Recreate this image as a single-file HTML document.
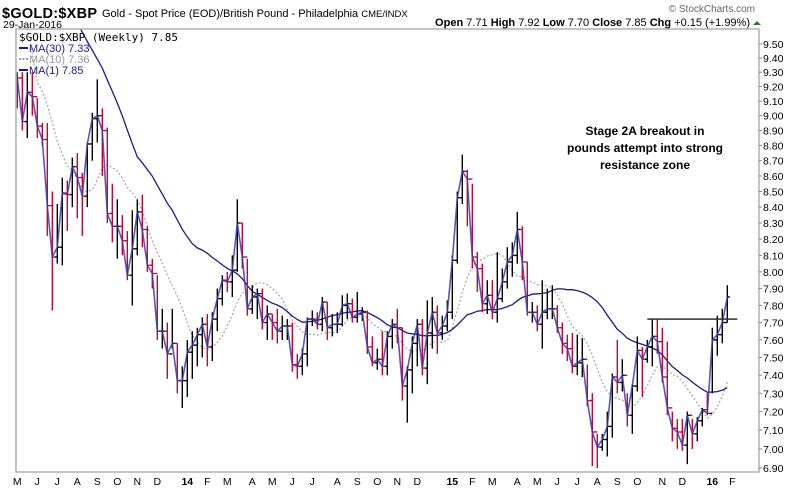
<!DOCTYPE html>
<html><head><meta charset="utf-8">
<style>
body{margin:0;background:#fff;}
svg{display:block;font-family:"Liberation Sans",sans-serif;}
</style></head>
<body>
<svg id="chart" width="800" height="490" viewBox="0 0 800 490" xmlns="http://www.w3.org/2000/svg">
<rect x="0" y="0" width="800" height="490" fill="#fff"/>
<g>
<text x="2" y="18" font-size="14.5" font-weight="bold" fill="#000" textLength="95">$GOLD:$XBP</text>
<text x="102" y="17" font-size="11" fill="#000">Gold - Spot Price (EOD)/British Pound - Philadelphia <tspan font-size="9.5">CME/INDX</tspan></text>
<text x="3" y="28" font-size="10.5" fill="#000">29-Jan-2016</text>
<text x="755" y="12" font-size="10" fill="#666" text-anchor="end">© StockCharts.com</text>
<text x="750" y="26" font-size="11" fill="#000" text-anchor="end"><tspan font-weight="bold">Open</tspan> 7.71 <tspan font-weight="bold">High</tspan> 7.92 <tspan font-weight="bold">Low</tspan> 7.70 <tspan font-weight="bold">Close</tspan> 7.85 <tspan font-weight="bold">Chg</tspan> +0.15 (+1.99%)</text>
<polygon points="753,25 757,21 761,25" fill="#2a7a2a"/>
</g>
<g id="plot"></g>
<g>
<text x="19" y="41" font-size="11" font-family="'DejaVu Sans Mono','Liberation Mono',monospace" fill="#000">$GOLD:$XBP (Weekly) 7.85</text>
<line x1="19" y1="48" x2="28" y2="48" stroke="#1a1a8c" stroke-width="2"/>
<text x="29" y="52" font-size="11" fill="#1a1a8c">MA(30) 7.33</text>
<line x1="19" y1="59" x2="28" y2="59" stroke="#999" stroke-width="2" stroke-dasharray="2,1.5"/>
<text x="29" y="63" font-size="11" fill="#999">MA(10) 7.36</text>
<line x1="19" y1="70" x2="28" y2="70" stroke="#1a1a8c" stroke-width="2"/>
<text x="29" y="74" font-size="11" fill="#1a1a8c">MA(1) 7.85</text>
</g>
<g font-size="12" font-weight="bold" text-anchor="middle" fill="#000">
<text x="645" y="135">Stage 2A breakout in</text>
<text x="645" y="152">pounds attempt into strong</text>
<text x="645" y="169">resistance zone</text>
</g>
</svg>
<script>
const priorCloses=[11.20,11.15,11.05,11.10,11.20,11.25,11.15,11.05,11.00,10.95,10.90,10.85,10.75,10.80,10.85,10.90,10.80,10.85,10.65,10.70,10.80,10.85,10.90,10.95,9.45,9.35,9.30,9.40,9.35];
const closes=[9.26,8.96,9.16,9.13,8.93,8.84,8.41,8.09,8.15,8.49,8.48,8.66,8.59,8.47,8.81,8.98,9.00,8.90,8.36,8.28,8.28,8.19,7.98,8.14,8.37,8.26,8.04,7.99,7.65,7.65,7.52,7.58,7.37,7.37,7.53,7.57,7.63,7.69,7.56,7.72,7.84,7.95,7.94,8.01,8.30,8.09,7.78,7.85,7.87,7.70,7.75,7.70,7.65,7.68,7.68,7.46,7.45,7.52,7.72,7.72,7.69,7.82,7.67,7.69,7.69,7.80,7.81,7.73,7.75,7.76,7.56,7.47,7.49,7.45,7.62,7.69,7.67,7.34,7.43,7.58,7.69,7.44,7.64,7.76,7.64,7.68,7.76,8.07,8.46,8.63,8.58,8.09,8.02,7.81,7.86,7.76,7.84,7.94,8.06,8.10,8.26,8.06,7.76,7.76,7.69,7.76,7.78,7.78,7.67,7.58,7.55,7.45,7.47,7.49,7.26,7.09,7.01,7.05,7.12,7.39,7.36,7.40,7.18,7.34,7.54,7.49,7.56,7.62,7.59,7.39,7.22,7.11,7.09,7.02,7.18,7.08,7.15,7.21,7.19,7.60,7.63,7.70,7.85];
const highs=[9.30,9.30,9.30,9.30,9.12,8.95,8.95,8.50,8.42,8.59,8.57,8.72,8.75,8.62,8.82,9.02,9.25,9.05,8.92,8.55,8.45,8.35,8.25,8.38,8.45,8.48,8.28,8.08,7.98,7.78,7.70,7.78,7.58,7.45,7.60,7.65,7.67,7.73,7.75,7.76,7.90,7.98,8.00,8.10,8.45,8.30,8.08,7.92,7.90,7.90,7.80,7.75,7.78,7.74,7.72,7.70,7.52,7.55,7.73,7.77,7.76,7.85,7.82,7.75,7.76,7.86,7.87,7.84,7.88,7.79,7.77,7.62,7.55,7.65,7.65,7.72,7.78,7.67,7.45,7.62,7.72,7.72,7.83,7.85,7.80,7.74,7.83,8.10,8.50,8.74,8.64,8.55,8.12,8.05,7.95,7.95,8.12,8.02,8.15,8.18,8.37,8.28,8.06,7.82,7.80,7.95,7.90,7.92,7.80,7.70,7.63,7.64,7.63,7.61,7.46,7.30,7.08,7.08,7.20,7.41,7.60,7.49,7.30,7.35,7.62,7.56,7.60,7.72,7.72,7.67,7.59,7.20,7.16,7.16,7.20,7.16,7.17,7.22,7.30,7.67,7.74,7.78,7.92];
const lows=[9.05,8.90,8.85,9.00,8.85,8.80,8.22,7.77,8.05,8.04,8.25,8.40,8.33,8.22,8.40,8.70,8.82,8.60,8.30,8.18,8.08,8.10,7.95,7.80,8.10,8.15,8.00,7.90,7.60,7.55,7.38,7.55,7.30,7.22,7.28,7.38,7.45,7.50,7.45,7.48,7.65,7.80,7.88,7.85,8.00,8.02,7.74,7.75,7.72,7.66,7.60,7.60,7.58,7.60,7.60,7.42,7.38,7.40,7.45,7.68,7.66,7.65,7.60,7.62,7.64,7.68,7.72,7.70,7.70,7.71,7.52,7.45,7.43,7.40,7.40,7.55,7.58,7.26,7.14,7.30,7.45,7.40,7.35,7.55,7.52,7.60,7.65,7.72,8.05,8.42,8.28,8.02,7.88,7.76,7.75,7.72,7.70,7.82,7.90,7.97,8.05,7.95,7.74,7.70,7.65,7.55,7.72,7.72,7.64,7.52,7.48,7.41,7.40,7.39,7.23,6.91,6.90,6.99,6.96,7.06,7.30,7.31,7.12,7.08,7.31,7.28,7.47,7.45,7.52,7.36,7.18,7.04,7.00,6.99,6.92,7.00,7.04,7.12,7.18,7.30,7.51,7.58,7.70];
const yTicks=[9.50,9.40,9.30,9.20,9.10,9.00,8.90,8.80,8.70,8.60,8.50,8.40,8.30,8.20,8.10,8.00,7.90,7.80,7.70,7.60,7.50,7.40,7.30,7.20,7.10,7.00,6.90];
const monthLabels=["M","J","J","A","S","O","N","D","14","F","M","A","M","J","J","A","S","O","N","D","15","F","M","A","M","J","J","A","S","O","N","D","16","F"];
const monthBarIdx=[0,4,8,12,16,20,24,28,34,38,42,47,51,55,59,64,68,72,76,80,87,91,95,100,104,108,112,116,120,124,129,133,139,143];
const resistanceLevel=7.72;
const resistanceStartIdx=126, resistanceEndIdx=144;

const NS="http://www.w3.org/2000/svg";
const svg=document.getElementById('chart');
const plot=document.getElementById('plot');
const L=16,R=759,T=29,B=472;
const yTop=9.5,yBot=6.9,pyTop=44,pyBot=468;
const k=(pyBot-pyTop)/(Math.log(yTop)-Math.log(yBot));
function y(p){return pyTop+(Math.log(yTop)-Math.log(p))*k;}
function x(i){return 17.3+i*5.0;}
function mk(tag,attrs,parent){const e=document.createElementNS(NS,tag);for(const a in attrs)e.setAttribute(a,attrs[a]);(parent||svg).appendChild(e);return e;}

const defs=mk('defs',{});
const cp=mk('clipPath',{id:'clip'},defs);
mk('rect',{x:L,y:T,width:R-L,height:B-T},cp);

const frame=mk('path',{d:`M${L},${T}H${R}V${B}H${L}Z`,fill:'none',stroke:'#b0b0b0','stroke-width':1.5});



const yg=mk('g',{});


yTicks.forEach(v=>{
  const ty=y(v);
  const t=mk('line',{x1:R,x2:R+3,y1:ty,y2:ty,stroke:'#888','stroke-width':1},yg);
  
  
  const tx=mk('text',{x:R+4,y:ty+4,'font-size':10.5,fill:'#000'},yg);
  tx.textContent=v.toFixed(2);
  
  
});
const xg=mk('g',{});


monthLabels.forEach((m,j)=>{
  const tx=mk('text',{x:x(monthBarIdx[j]),y:485,'font-size':10.5,'text-anchor':'middle',fill:'#000','font-weight':/\d/.test(m)?'bold':'normal'},xg);
  tx.textContent=m;
  
  
});

const g=mk('g',{'clip-path':'url(#clip)'},plot);



const all=priorCloses.concat(closes);
function ma(n){return closes.map((c,i)=>{const e=priorCloses.length+i;const s=all.slice(Math.max(0,e-n+1),e+1);return s.reduce((a,b)=>a+b,0)/s.length;});}
function pathOf(arr){return arr.map((v,i)=>(i?'L':'M')+x(i).toFixed(1)+','+y(v).toFixed(1)).join('');}
const ma10=mk('path',{d:pathOf(ma(10)),fill:'none',stroke:'#aaaaaa','stroke-width':1.3,'stroke-dasharray':'2,2'},g);


const ma30=mk('path',{d:pathOf(ma(30)),fill:'none',stroke:'#1a1a8c','stroke-width':1.3},g);



closes.forEach((c,i)=>{
  const prev=i?closes[i-1]:c+0.01;
  const col=c<prev?'#d0002c':'#000';
  const bg=mk('g',{stroke:col,'stroke-width':1.4},g);
  
  
  const xi=x(i);
  mk('line',{x1:xi,x2:xi,y1:y(highs[i]),y2:y(lows[i])},bg);
  mk('line',{x1:xi-2.5,x2:xi,y1:y(prev),y2:y(prev)},bg);
  mk('line',{x1:xi,x2:xi+2.5,y1:y(c),y2:y(c)},bg);
});
const cl=mk('path',{d:pathOf(closes),fill:'none',stroke:'#3a3ab0','stroke-width':1.6,'stroke-opacity':0.85},g);



const rl=mk('line',{x1:x(resistanceStartIdx),x2:x(resistanceEndIdx),y1:y(resistanceLevel),y2:y(resistanceLevel),stroke:'#333','stroke-width':1.5},g);


</script>
</body></html>
